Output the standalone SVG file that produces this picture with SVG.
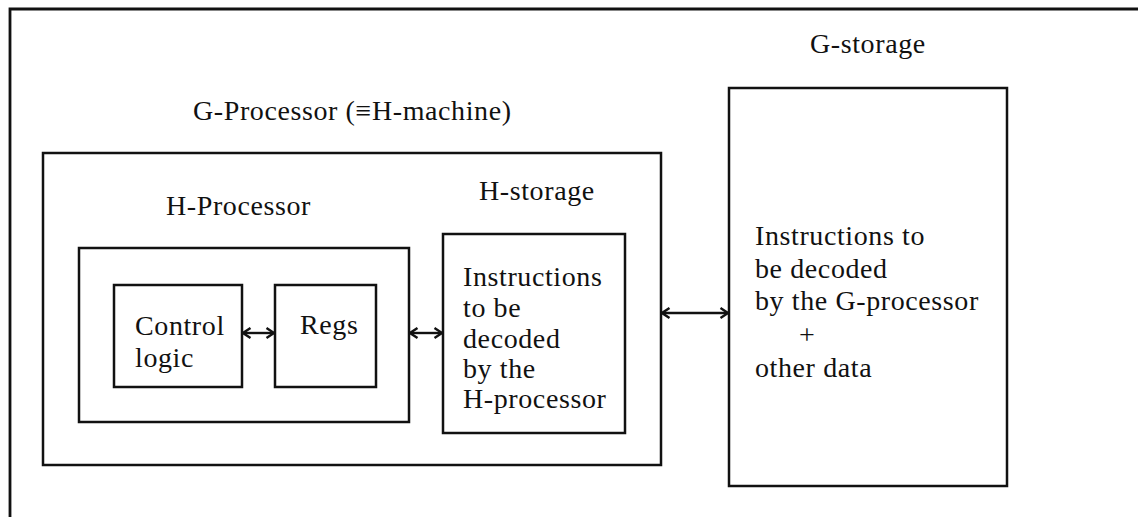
<svg xmlns="http://www.w3.org/2000/svg" width="1138" height="517" viewBox="0 0 1138 517">
  <style>
    .box { fill: none; stroke: #111; stroke-width: 2.5; }
    .frame { fill: none; stroke: #111; stroke-width: 2.8; }
    .link { fill: none; stroke: #111; stroke-width: 2.4; marker-start: url(#head); marker-end: url(#head); }
    text { font-family: "Liberation Serif", "Times New Roman", serif; font-size: 28px; letter-spacing: 0.6px; fill: #111; }
  </style>
  <defs>
    <marker id="head" viewBox="0 0 10 12" refX="9.5" refY="6" markerWidth="10" markerHeight="12" markerUnits="userSpaceOnUse" orient="auto-start-reverse">
      <path d="M2,1 L9.5,6 L2,11" fill="none" stroke="#111" stroke-width="2.4"/>
    </marker>
  </defs>
  <rect width="1138" height="517" fill="#fff"/>

  <!-- page frame (top and left edges) -->
  <path class="frame" d="M10,517 V9 H1138"/>

  <g id="g-processor">
    <rect class="box" x="43" y="153" width="618" height="312"/>
    <text x="193" y="120">G-Processor (≡H-machine)</text>
  </g>

  <g id="h-processor">
    <rect class="box" x="79" y="248" width="330" height="174"/>
    <text x="166" y="215">H-Processor</text>
  </g>

  <g id="control-logic">
    <rect class="box" x="114" y="285" width="128" height="102"/>
    <text x="135" y="335">Control</text>
    <text x="135" y="367">logic</text>
  </g>

  <g id="regs">
    <rect class="box" x="275" y="285" width="101" height="102"/>
    <text x="300" y="334">Regs</text>
  </g>

  <g id="h-storage">
    <rect class="box" x="443" y="234" width="182" height="199"/>
    <text x="479" y="200">H-storage</text>
    <text x="463" y="286">Instructions</text>
    <text x="463" y="317">to be</text>
    <text x="463" y="348">decoded</text>
    <text x="463" y="378">by the</text>
    <text x="463" y="408">H-processor</text>
  </g>

  <g id="g-storage">
    <rect class="box" x="729" y="88" width="278" height="398"/>
    <text x="810" y="53">G-storage</text>
    <text x="755" y="245">Instructions to</text>
    <text x="755" y="278">be decoded</text>
    <text x="755" y="310">by the G-processor</text>
    <text x="799" y="344">+</text>
    <text x="755" y="377">other data</text>
  </g>

  <g id="connectors">
    <line class="link" x1="243" y1="333" x2="274" y2="333"/>
    <line class="link" x1="410" y1="333" x2="442" y2="333"/>
    <line class="link" x1="662" y1="313" x2="728" y2="313"/>
  </g>
</svg>
